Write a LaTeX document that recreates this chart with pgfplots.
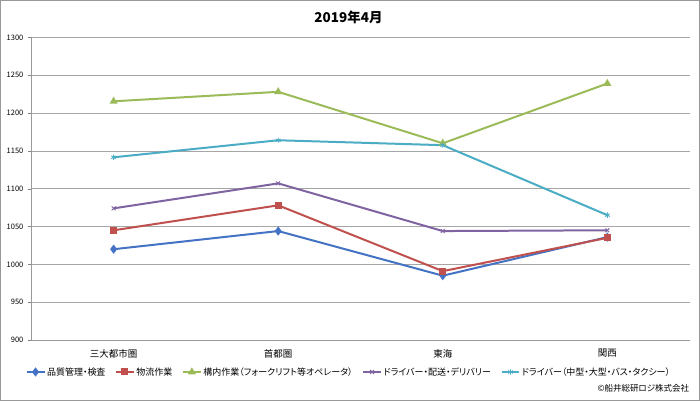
\documentclass[border=0pt]{standalone}
\usepackage{fontspec}
\setmainfont{Noto Sans CJK JP}[RawFeature=+palt]
\usepackage{pgfplots}
\pgfplotsset{compat=1.18}
\definecolor{s1}{HTML}{4472C4}
\definecolor{s2}{HTML}{C0504D}
\definecolor{s3}{HTML}{9BBB59}
\definecolor{s4}{HTML}{8064A2}
\definecolor{s5}{HTML}{4BACC6}
\begin{document}
\begin{tikzpicture}[x=1pt,y=1pt]
\draw[gray!80, line width=0.8pt, fill=white] (-31,-60) rectangle (669,340);
\begin{axis}[at={(0,0)}, anchor=south west,
  scale only axis, width=659pt, height=303pt,
  xmin=-0.5, xmax=3.5, ymin=900, ymax=1300,
  ytick={900,950,...,1300},
  xtick={0,1,2,3},
  xticklabels={三大都市圏,首都圏,東海,関西},
  extra x ticks={-0.5,0.5,1.5,2.5,3.5},
  extra x tick labels={},
  extra x tick style={tick style={gray, draw=gray}, grid=none},
  x tick style={draw=none},
  major tick length=3.5pt,
  axis x line*=bottom, axis y line*=left,
  axis line style={gray!80, line width=0.6pt},
  ymajorgrids, grid style={gray!70, line width=0.6pt},
  y tick style={gray},
  tick align=outside,
  /pgf/number format/assume math mode=true,
  /pgf/number format/1000 sep={},
  yticklabel style={font=\fontsize{7.5}{8}\selectfont, xshift=-1pt},
  xticklabel style={font=\fontsize{9.5}{10}\selectfont, yshift=-2pt},
  legend columns=5,
  legend style={at={(-0.0091,-0.1056)}, anchor=west, draw=none, fill=none,
    inner sep=0pt, font=\fontsize{9}{10}\selectfont, column sep=1pt,
    nodes={inner sep=0.5pt},
    /tikz/every even column/.append style={column sep=9pt}},
  legend image code/.code={\draw[#1] (0pt,0pt) -- (18pt,0pt); \draw[#1, mark repeat=1] plot coordinates {(9pt,0pt)};},
  every axis plot/.append style={line width=2pt, mark size=2.7pt},
]
\addplot[s1, mark=diamond*, mark size=3pt] coordinates {(0,1020) (1,1044) (2,985) (3,1036)};
\addlegendentry{品質管理・検査}
\addplot[s2, mark=square*, mark size=2.5pt] coordinates {(0,1045) (1,1078) (2,991) (3,1035)};
\addlegendentry{物流作業}
\addplot[s3, mark=triangle*] coordinates {(0,1215.5) (1,1228) (2,1160) (3,1239)};
\addlegendentry{構内作業（フォークリフト等オペレータ）}
\addplot[s4, mark=x, mark options={line width=0.9pt}] coordinates {(0,1074) (1,1107) (2,1044) (3,1045)};
\addlegendentry{ドライバー・配送・デリバリー}
\addplot[s5, mark=asterisk, mark options={line width=0.9pt}] coordinates {(0,1141.5) (1,1164) (2,1157.5) (3,1065)};
\addlegendentry{ドライバー（中型・大型・バス・タクシー）}
\end{axis}
\node[font=\bfseries\fontsize{13.5}{15}\selectfont] at (317.5,323) {2019年4月};
\node[anchor=east, font=\fontsize{8.5}{9}\selectfont] at (662,-48) {©船井総研ロジ株式会社};
\end{tikzpicture}
\end{document}
